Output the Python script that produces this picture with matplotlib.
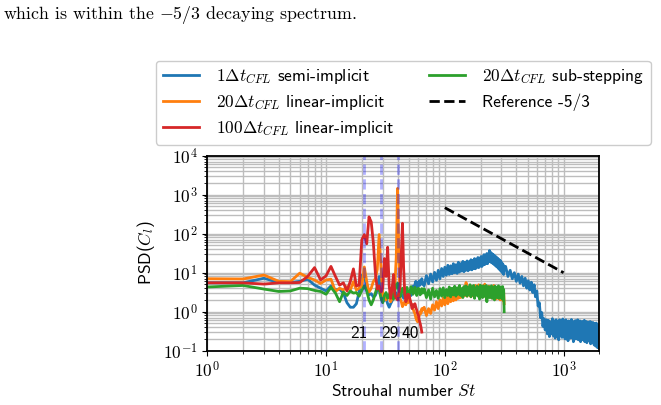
import numpy as np
import matplotlib
matplotlib.use("Agg")
import matplotlib.pyplot as plt
from matplotlib.ticker import FuncFormatter, NullFormatter, LogLocator

plt.rcParams['mathtext.fontset'] = 'cm'
plt.rcParams['font.family'] = ['cmss10', 'DejaVu Sans']
plt.rcParams['axes.unicode_minus'] = False

# ---------------- data ----------------
st_low = list(range(1, 66))
st_red = list(range(1, 65))
st_mid = list(range(67, 317, 3))
st_hi = list(range(325, 2000, 15))

blue_low = [5.5, 5.5, 7.2, 5.6, 5.6, 6.0, 6.8, 4.8, 4.0, 3.4,
            4.6, 3.6, 3.8, 3.0, 1.7, 1.3, 1.3, 1.6, 3.2, 8.5,
            9.0, 4.0, 2.7, 2.9, 2.4, 2.6, 3.6, 8.0, 4.0, 1.8,
            2.0, 2.2, 1.6, 1.3, 1.6, 1.9, 2.5, 3.2, 3.0, 2.2,
            2.0, 2.5, 2.7, 2.6, 2.2, 2.4, 2.6, 3.0, 2.4, 2.8,
            3.5, 2.6, 3.2, 4.5, 3.6, 5.0, 6.0, 4.2, 5.5, 4.6,
            6.2, 4.8, 5.8, 7.0, 5.2]
orange_low = [7.0, 6.9, 8.7, 6.0, 5.9, 9.7, 7.6, 6.5, 5.3, 6.5,
              6.8, 3.3, 4.0, 3.6, 4.4, 3.6, 5.9, 3.6, 4.0, 4.6,
              14.0, 5.9, 3.2, 4.0, 5.9, 7.0, 12.0, 95.0, 13.0, 2.8,
              2.2, 2.0, 2.6, 2.4, 1.8, 2.2, 3.2, 5.0, 25.0, 1450.0,
              30.0, 2.2, 1.8, 1.35, 1.6, 1.8, 1.5, 2.0, 1.7, 2.2,
              1.9, 1.6, 1.4, 1.2, 1.0, 0.9, 0.7, 0.6, 0.55, 0.7,
              0.8, 1.0, 0.9, 1.2, 1.1]
green_low = [4.3, 4.7, 3.8, 3.3, 3.4, 4.0, 3.9, 3.5, 3.3, 2.8,
             4.2, 3.0, 1.8, 3.2, 2.6, 3.4, 3.0, 3.1, 2.5, 3.5,
             4.6, 3.4, 2.0, 1.5, 2.0, 3.0, 4.4, 3.6, 2.2, 1.7,
             2.6, 3.1, 2.2, 2.6, 3.6, 2.4, 2.1, 3.4, 4.8, 5.4,
             3.4, 2.4, 3.0, 4.0, 3.3, 2.6, 3.2, 4.2, 3.0, 2.5,
             3.4, 4.4, 3.6, 2.8, 3.3, 4.2, 3.5, 2.6, 3.2, 4.0,
             3.4, 2.7, 3.5, 3.9, 3.0]
red_psd = [5.5, 5.5, 5.1, 5.5, 5.5, 5.6, 8.0, 13.5, 6.5, 8.3,
           14.5, 8.0, 4.8, 5.5, 3.4, 6.0, 12.5, 4.6, 4.8, 70.0,
           95.0, 55.0, 270.0, 200.0, 60.0, 10.0, 3.8, 4.6, 3.2, 4.0,
           23.0, 8.0, 45.0, 4.6, 2.2, 4.0, 9.0, 2.7, 2.2, 2.0,
           3.0, 4.5, 30.0, 185.0, 13.0, 3.0, 1.8, 2.2, 2.8, 2.7,
           2.0, 1.6, 1.2, 1.5, 1.35, 1.6, 1.3, 1.1, 0.9, 0.8,
           0.6, 0.5, 0.4, 0.3]

blue_mid = [4.6, 8.4, 5.2, 9.2, 5.8, 10.2, 6.4, 11.5, 7.0, 12.8,
            8.0, 13.8, 8.6, 15.5, 9.0, 15.0, 9.4, 17.0, 10.0, 16.0,
            9.6, 18.5, 10.4, 17.0, 11.0, 19.5, 10.6, 18.2, 11.6, 20.0,
            11.2, 19.0, 12.2, 21.5, 11.8, 20.5, 12.8, 23.0, 12.6, 21.5,
            13.8, 24.5, 13.5, 23.0, 14.8, 26.0, 14.4, 25.0, 15.8, 29.0,
            16.2, 27.5, 17.5, 31.0, 17.0, 30.0, 19.0, 37.0, 19.5, 33.0,
            18.0, 30.5, 17.5, 29.0, 16.5, 27.5, 15.5, 26.0, 14.5, 24.5,
            13.8, 23.0, 12.8, 21.5, 12.0, 20.5, 11.2, 19.0, 10.5, 17.5,
            9.8, 16.0, 9.0, 14.5]
orange_mid = [1.3, 0.8, 1.2, 0.9, 1.5, 1.1, 1.8, 1.2, 2.0, 1.4,
              2.3, 1.5, 2.5, 1.6, 2.7, 1.8, 2.9, 1.9, 3.1, 2.0,
              3.3, 2.2, 3.7, 2.3, 3.5, 2.5, 4.3, 2.6, 5.6, 2.5,
              4.1, 2.7, 3.9, 2.4, 4.5, 2.6, 4.0, 2.5, 4.7, 2.8,
              4.1, 2.6, 4.9, 2.9, 4.3, 2.7, 4.6, 2.8, 4.2, 2.5,
              5.1, 2.8, 4.4, 2.6, 4.1, 2.4, 4.5, 2.7, 3.9, 2.3,
              4.3, 2.5, 4.0, 2.2, 4.7, 2.4, 3.8, 2.1, 4.1, 2.3,
              3.7, 2.2, 4.2, 2.4, 3.6, 2.0, 4.0, 2.3, 3.5, 2.1,
              3.8, 1.9, 3.1, 1.6]
green_mid = [3.9, 2.3, 3.6, 2.1, 4.0, 2.4, 3.5, 2.2, 3.9, 2.5,
             4.1, 2.3, 3.7, 2.6, 4.3, 2.4, 4.0, 2.7, 4.5, 2.5,
             4.1, 2.8, 4.7, 2.6, 3.9, 2.3, 4.4, 2.7, 4.6, 2.5,
             4.1, 2.9, 4.9, 2.4, 4.2, 2.8, 4.7, 2.2, 4.0, 2.7,
             4.5, 2.5, 4.1, 2.1, 4.8, 2.6, 4.0, 2.3, 4.6, 2.8,
             4.2, 2.4, 4.7, 1.8, 4.1, 2.5, 4.4, 2.3, 3.9, 2.7,
             4.6, 2.2, 4.0, 2.6, 4.3, 2.0, 4.5, 2.5, 3.8, 2.3,
             4.2, 2.6, 4.6, 2.2, 3.9, 2.4, 4.3, 2.5, 4.0, 2.1,
             4.4, 2.3, 3.7, 1.0]

blue_hi = [14.5, 8.0, 11.5, 7.0, 10.0, 6.0, 9.2, 5.4, 8.0, 4.6,
           7.2, 4.0, 6.2, 3.6, 5.7, 3.1, 4.9, 2.4, 3.4, 1.4,
           1.7, 0.7, 0.95, 0.42, 0.66, 0.34, 0.62, 0.27, 0.60, 0.23,
           0.55, 0.27, 0.66, 0.24, 0.58, 0.21, 0.62, 0.27, 0.54, 0.19,
           0.62, 0.25, 0.56, 0.22, 0.65, 0.27, 0.56, 0.20, 0.62, 0.25,
           0.52, 0.18, 0.58, 0.24, 0.56, 0.21, 0.63, 0.27, 0.51, 0.17,
           0.56, 0.23, 0.59, 0.20, 0.54, 0.25, 0.62, 0.19, 0.52, 0.22,
           0.58, 0.17, 0.50, 0.24, 0.56, 0.19, 0.54, 0.21, 0.60, 0.17,
           0.51, 0.23, 0.56, 0.16, 0.50, 0.20, 0.54, 0.18, 0.49, 0.22,
           0.56, 0.15, 0.52, 0.19, 0.47, 0.16, 0.53, 0.17, 0.48, 0.14,
           0.50, 0.17, 0.45, 0.13, 0.51, 0.15, 0.43, 0.12, 0.46, 0.14,
           0.41, 0.12]

ref_st = [100, 1000]
ref_psd = [464, 10]

mark_st = [21, 29, 40]
mark_labels = ['21', '29', '40']
mark_label_st = [16.0, 29.2, 43.5]

labels = [r'$1\Delta t_{CFL}$ semi-implicit',
          r'$20\Delta t_{CFL}$ linear-implicit',
          r'$100\Delta t_{CFL}$ linear-implicit',
          r'$20\Delta t_{CFL}$ sub-stepping',
          'Reference -5/3']

# ---------------- figure ----------------
fig = plt.figure(figsize=(6.61, 4.05), dpi=100)
ax = fig.add_axes([0.3136, 0.1341, 0.5931, 0.4815])

blue_st = st_low + st_mid + st_hi
blue_psd = blue_low + blue_mid + blue_hi
orange_st = st_low + st_mid
orange_psd = orange_low + orange_mid
green_psd = green_low + green_mid

lw = 2.0
h1, = ax.plot(blue_st, blue_psd, color='#1f77b4', lw=lw, label=labels[0])
h2, = ax.plot(orange_st, orange_psd, color='#ff7f0e', lw=lw, label=labels[1])
h4, = ax.plot(orange_st, green_psd, color='#2ca02c', lw=lw, label=labels[3])
h3, = ax.plot(st_red, red_psd, color='#d62728', lw=lw, label=labels[2])
h5, = ax.plot(ref_st, ref_psd, color='black', lw=2, ls='--', label=labels[4])

for s in mark_st:
    ax.axvline(s, color='blue', alpha=0.3, ls='--', lw=2)
for s, t in zip(mark_label_st, mark_labels):
    ax.text(s, 0.28, t, ha='left', va='center', fontsize=12.5)

ax.set_xscale('log')
ax.set_yscale('log')
ax.set_xlim(1, 2000)
ax.set_ylim(0.1, 1e4)

fmt = FuncFormatter(lambda v, p: r'$10^{%d}$' % int(round(np.log10(v))))
ax.xaxis.set_major_formatter(fmt)
ax.yaxis.set_major_formatter(fmt)
ax.xaxis.set_minor_formatter(NullFormatter())
ax.yaxis.set_minor_formatter(NullFormatter())
ax.yaxis.set_major_locator(LogLocator(base=10, numticks=10))
ax.yaxis.set_minor_locator(LogLocator(base=10, subs=np.arange(2, 10), numticks=10))
ax.tick_params(labelsize=12.5)

ax.grid(True, which='both', color='#bdbdbd', lw=1.0)
ax.set_axisbelow(True)
for sp in ax.spines.values():
    sp.set_linewidth(1.3)

ax.set_xlabel(r'Strouhal number $St$', fontsize=12.5, labelpad=2)
ax.set_ylabel(r'PSD($C_l$)', fontsize=12.5)

ax.legend(handles=[h1, h2, h3, h4, h5], ncol=2, loc='lower center',
          bbox_to_anchor=(0.5, 1.03), fontsize=12.5, framealpha=1,
          handlelength=2.1, handletextpad=0.95, columnspacing=2.0,
          borderpad=0.4, labelspacing=0.38, borderaxespad=0.3)

fig.text(0.005, 0.963, r'which is within the $-5/3$ decaying spectrum.',
         family='cmr10', fontsize=12.9, va='center', ha='left')

fig.savefig('out.png', dpi=100)
